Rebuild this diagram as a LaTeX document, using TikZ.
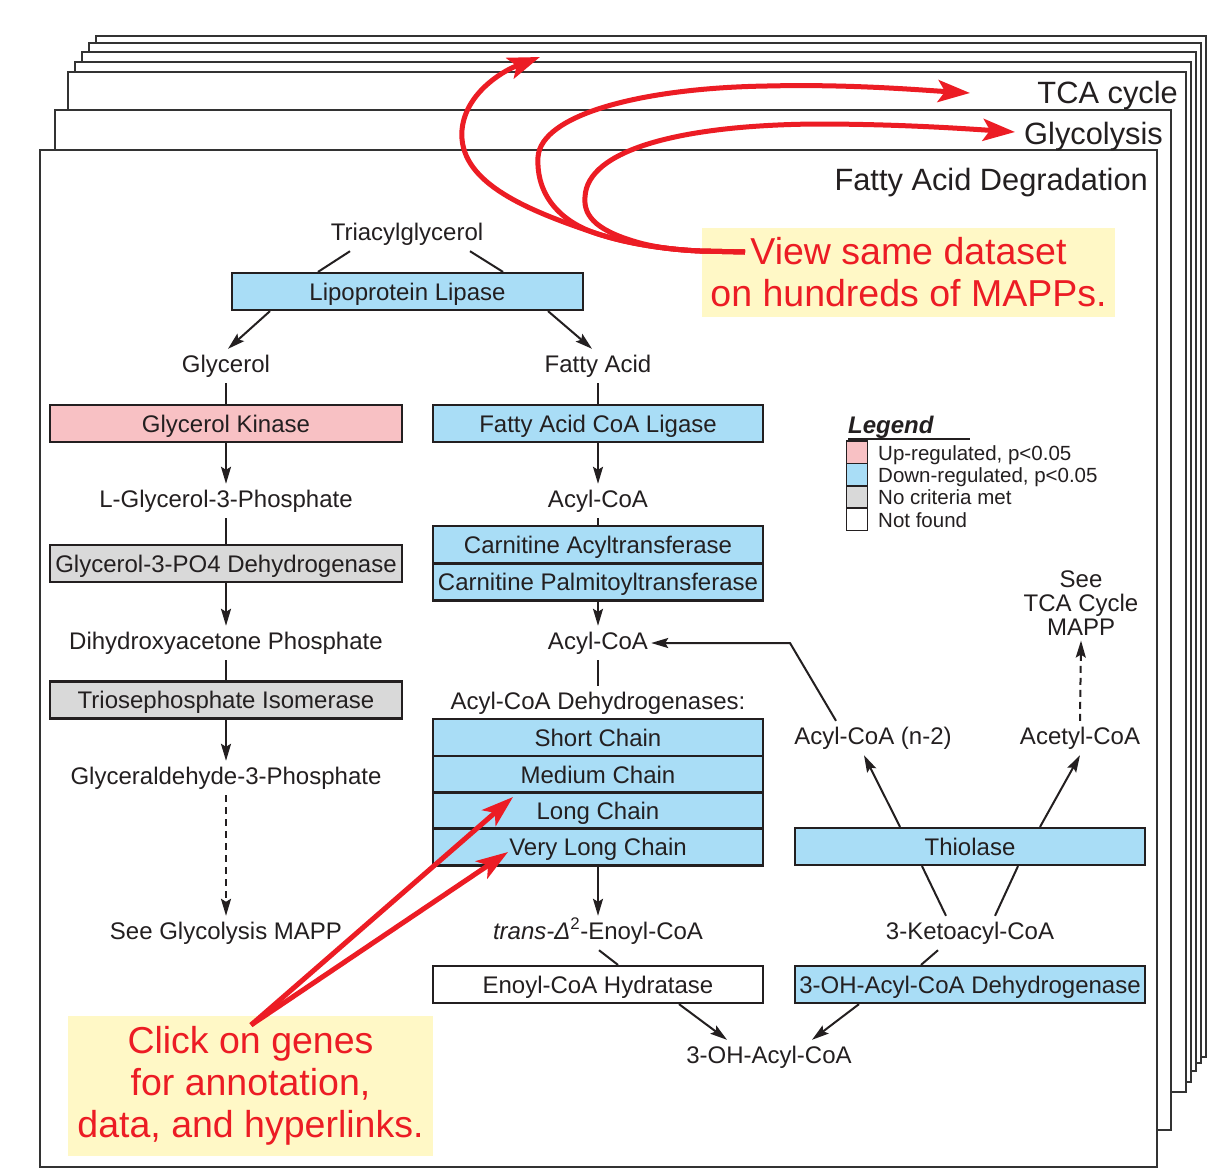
\documentclass[tikz,border=0pt]{standalone}
\usepackage{fontspec}
\setmainfont{Liberation Sans}
\usetikzlibrary{arrows.meta,calc}
\definecolor{txt}{HTML}{231F20}
\definecolor{boxline}{HTML}{231F20}
\definecolor{pgline}{HTML}{333333}
\definecolor{genblue}{HTML}{A9DDF6}
\definecolor{genpink}{HTML}{F8C1C4}
\definecolor{gengray}{HTML}{D9D9D9}
\definecolor{callyel}{HTML}{FFF8C6}
\definecolor{callred}{HTML}{EC1C24}
\newcommand\fsz[2]{\fontsize{#1}{#2}\selectfont}
\begin{document}
\begin{tikzpicture}[x=1pt,y=-1pt,
  pg/.style={draw=pgline,line width=2pt,fill=white},
  pglabel/.style={font=\fsz{30.8}{31},text=txt,inner sep=0pt,anchor=base east},
  met/.style={font=\fsz{24}{24},text=txt,inner xsep=3pt,inner ysep=6pt,text height=17pt,text depth=5pt},
  gene/.style={draw=boxline,line width=2.2pt,font=\fsz{24}{24},text=txt,inner sep=0pt,minimum height=37pt,text height=22pt,text depth=5pt},
  lcol/.style={gene,minimum width=352pt},
  mcol/.style={gene,minimum width=330pt},
  rcol/.style={gene,minimum width=350pt},
  conn/.style={draw=txt,line width=2pt},
  arr/.style={conn,-{Stealth[length=17pt,width=10pt,inset=3pt]}},
  darr/.style={arr,dash pattern=on 7pt off 5pt},
  redarr/.style={draw=callred,line width=5pt,line join=round,-{Stealth[length=32pt,width=22pt,inset=7pt]}},
  redarrb/.style={draw=callred,line width=5pt,-{Stealth[length=32pt,width=21pt,inset=8pt]}},
  callbox/.style={fill=callyel,text=callred,font=\fsz{37.5}{42},align=center,inner sep=0pt},
  legsw/.style={draw=boxline,line width=1.5pt,minimum width=21pt,minimum height=22.3pt,inner sep=0pt},
  legtxt/.style={font=\fsz{20.5}{20.5},text=txt,inner sep=0pt,anchor=base west}
]
\useasboundingbox (0,0) rectangle (1209,1168);
% stacked pages
\foreach \l/\t/\r/\b in {96/36/1206/1057, 89/43/1201/1063, 82/52/1196/1071, 75/62/1191/1082, 68/72/1186/1092, 55/110/1171/1130, 40/150/1157/1167}
  \draw[pg] (\l,\t) rectangle (\r,\b);
\node[pglabel] (tcalab) at (1178,103) {TCA cycle};
\node[pglabel] (glylab) at (1163,144) {Glycolysis};
\node[pglabel] (fadlab) at (1148,190) {Fatty Acid Degradation};

% metabolites
\node[met] (tag) at (407,234) {Triacylglycerol};
\node[met] (gly) at (226,366) {Glycerol};
\node[met] (fa) at (598,366) {Fatty Acid};
\node[met] (g3p) at (226,501) {L-Glycerol-3-Phosphate};
\node[met] (dhap) at (226,643) {Dihydroxyacetone Phosphate};
\node[met] (gap) at (226,778) {Glyceraldehyde-3-Phosphate};
\node[met] (seegly) at (226,933) {See Glycolysis MAPP};
\node[met] (acoa1) at (598,501) {Acyl-CoA};
\node[met] (acoa2) at (598,643) {Acyl-CoA};
\node[met] (acdh) at (598,703) {Acyl-CoA Dehydrogenases:};
\node[met] (enoyl) at (598,933) {{\itshape trans-Δ}\textsuperscript{2}-Enoyl-CoA};
\node[met] (ohacoa) at (769,1057) {3-OH-Acyl-CoA};
\node[met] (keto) at (970,933) {3-Ketoacyl-CoA};
\node[met] (acn2) at (873,738) {Acyl-CoA (n-2)};
\node[met] (acetyl) at (1080,738) {Acetyl-CoA};
\node[font=\fsz{24}{24},text=txt,align=center,inner sep=5pt] (seetca) at (1081,603) {See\\TCA Cycle\\MAPP};

% genes
\node[gene,minimum width=351pt,fill=genblue] (lpl) at (407.5,291.5) {Lipoprotein Lipase};
\node[lcol,fill=genpink] (gk) at (226,423.5) {Glycerol Kinase};
\node[lcol,fill=gengray] (g3pdh) at (226,563.5) {Glycerol-3-PO4 Dehydrogenase};
\node[lcol,fill=gengray] (tpi) at (226,700) {Triosephosphate Isomerase};
\node[mcol,fill=genblue] (facl) at (598,423.5) {Fatty Acid CoA Ligase};
\node[mcol,fill=genblue] (cat) at (598,544.5) {Carnitine Acyltransferase};
\node[mcol,fill=genblue] (cpt) at (598,582) {Carnitine Palmitoyltransferase};
\node[mcol,fill=genblue] (sc) at (598,737.5) {Short Chain};
\node[mcol,fill=genblue] (mc) at (598,774.5) {Medium Chain};
\node[mcol,fill=genblue] (lc) at (598,811) {Long Chain};
\node[mcol,fill=genblue] (vlc) at (598,847) {Very Long Chain};
\node[mcol,fill=white] (ech) at (598,984.5) {Enoyl-CoA Hydratase};
\node[rcol,fill=genblue] (hadh) at (970,984.5) {3-OH-Acyl-CoA Dehydrogenase};
\node[rcol,fill=genblue] (thl) at (970,846.5) {Thiolase};

% connectors
\draw[conn] ([xshift=-57pt]tag.south) -- ([xshift=-89.5pt]lpl.north);
\draw[conn] ([xshift=63pt]tag.south) -- ([xshift=95.5pt]lpl.north);
\draw[arr] ([xshift=-137.5pt]lpl.south) -- ([xshift=2pt]gly.north);
\draw[arr] ([xshift=140.5pt]lpl.south) -- ([xshift=-6pt]fa.north);
\draw[conn] (gly.south) -- (gk.north);
\draw[arr] (gk.south) -- (g3p.north);
\draw[conn] (g3p.south) -- (g3pdh.north);
\draw[arr] (g3pdh.south) -- (dhap.north);
\draw[conn] (dhap.south) -- (tpi.north);
\draw[arr] (tpi.south) -- (gap.north);
\draw[darr] (gap.south) -- (seegly.north);
\draw[conn] (fa.south) -- (facl.north);
\draw[arr] (facl.south) -- (acoa1.north);
\draw[conn] (acoa1.south) -- (cat.north);
\draw[arr] (cpt.south) -- (acoa2.north);
\draw[conn] (acoa2.south) -- (acdh.north);
\draw[arr] (vlc.south) -- (enoyl.north);
\draw[conn] ([xshift=1pt]enoyl.south) -- ([xshift=20pt]ech.north);
\draw[arr] ([xshift=81pt]ech.south) -- ([xshift=-42pt]ohacoa.north);
\draw[arr] ([xshift=-111pt]hadh.south) -- ([xshift=43pt]ohacoa.north);
\draw[conn] ([xshift=-32pt]keto.south) -- ([xshift=-49pt]hadh.north);
\draw[conn] ([xshift=-48pt]thl.south) -- ([xshift=-24pt]keto.north);
\draw[conn] ([xshift=48pt]thl.south) -- ([xshift=25pt]keto.north);
\draw[arr] ([xshift=-70pt]thl.north) -- ([xshift=-9pt]acn2.south);
\draw[arr] ([xshift=70pt]thl.north) -- (acetyl.south);
\coordinate (bend) at (790,643);
\draw[arr] ([xshift=-37pt]acn2.north) -- (bend) -- (acoa2.east);
\draw[darr] (acetyl.north) -- (seetca.south);

% legend
\node[font=\fsz{24}{24}\bfseries\itshape,text=txt,inner sep=0pt,anchor=base west] (leg) at (848,433) {Legend};
\draw[conn] (848,439) -- (970,439);
\node[legsw,fill=genpink] (sw1) at (857,452.3) {};
\node[legsw,fill=genblue] (sw2) at (857,474.6) {};
\node[legsw,fill=gengray] (sw3) at (857,496.9) {};
\node[legsw,fill=white] (sw4) at (857,519.2) {};
\node[legtxt] (lt1) at (878,460) {Up-regulated, p<0.05};
\node[legtxt] (lt2) at (878,482) {Down-regulated, p<0.05};
\node[legtxt] (lt3) at (878,504) {No criteria met};
\node[legtxt] (lt4) at (878,527) {Not found};

% callouts
\node[callbox,minimum width=413pt,minimum height=89pt] (view) at (908.5,272.5) {View same dataset\\on hundreds of MAPPs.};
\node[callbox,minimum width=365pt,minimum height=140pt] (click) at (250.5,1086) {Click on genes\\for annotation,\\data, and hyperlinks.};

\coordinate (vs) at (745,252);
\coordinate (vj) at (700,251);
\coordinate (tip1) at (540,57);
\coordinate (tip2) at (970,93);
\coordinate (tip3) at (1015,132);
\draw[redarr] (vs) -- (vj) .. controls (660,249) and (625,243) .. (595,233) .. controls (520,208) and (458,180) .. (462,130) .. controls (465,95) and (500,72) .. (tip1);
\draw[redarr] (vs) -- (vj) .. controls (660,249) and (625,243) .. (595,233) .. controls (560,221) and (536,195) .. (538,157) .. controls (541,115) and (640,88) .. (767,86) .. controls (850,84) and (920,90) .. (tip2);
\draw[redarr] (vs) -- (vj) .. controls (675,250) and (655,247) .. (640,243) .. controls (600,232) and (583,218) .. (585,197) .. controls (587,150) and (680,125) .. (817,124) .. controls (900,124) and (970,129) .. (tip3);

\coordinate (cs) at (251,1025);
\coordinate (lct) at (513,797);
\coordinate (vlct) at (508,852);
\draw[redarrb] (cs) -- (lct);
\draw[redarrb] (cs) -- (vlct);
\end{tikzpicture}
\end{document}
